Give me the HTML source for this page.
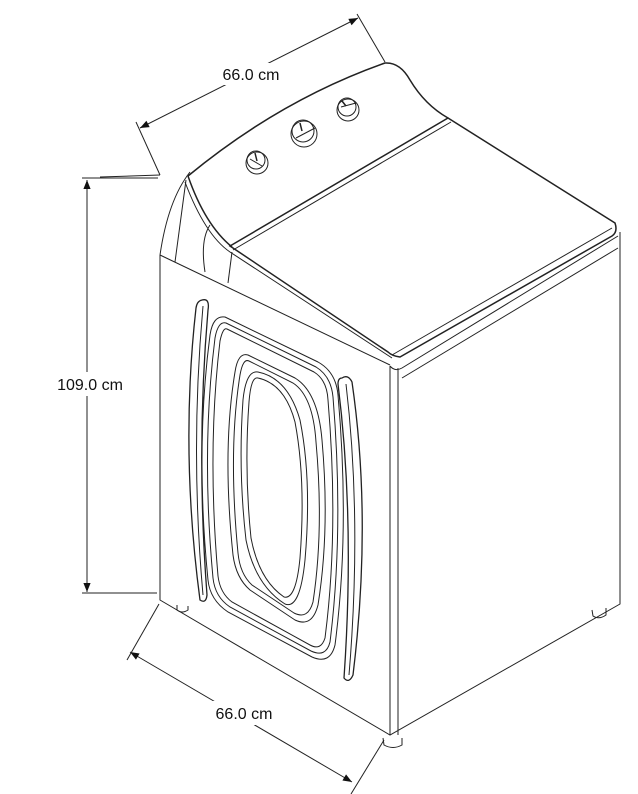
<!DOCTYPE html>
<html><head><meta charset="utf-8"><style>
html,body{margin:0;padding:0;background:#fff;}
svg{display:block;}
text{font-family:"Liberation Sans",sans-serif;font-size:16px;fill:#111;}
</style></head><body>
<svg width="638" height="794" viewBox="0 0 638 794" xmlns="http://www.w3.org/2000/svg">
<defs>
<marker id="a" viewBox="0 0 10 10" refX="10" refY="5" markerWidth="13" markerHeight="9" orient="auto-start-reverse" markerUnits="userSpaceOnUse"><path d="M0,1 L10,5 L0,9 z" fill="#111"/></marker>
</defs>
<g fill="none" stroke="#222" stroke-width="1">
<line x1="140" y1="128" x2="358" y2="18" marker-start="url(#a)" marker-end="url(#a)"/>
<line x1="136" y1="122" x2="160" y2="175"/>
<line x1="100" y1="177" x2="160" y2="175"/>
<line x1="357" y1="14" x2="385" y2="62"/>
<line x1="87" y1="180" x2="87" y2="592" marker-start="url(#a)" marker-end="url(#a)"/>
<line x1="82" y1="178" x2="158" y2="178"/>
<line x1="82" y1="593" x2="157" y2="593"/>
<line x1="130" y1="652" x2="352" y2="782" marker-start="url(#a)" marker-end="url(#a)"/>
<line x1="127" y1="660" x2="159" y2="604"/>
<line x1="351" y1="794" x2="384" y2="740"/>

<path d="M160,255 L160,600 L390,735 L620,604 L620,232"/>
<path d="M160,255 L390,365"/>
<path d="M390,366 L390,735 M398,368 L398,735"/>
<path d="M390,366 Q395,372 402,368 L618,236"/>
<path d="M402,378 L618,248"/>
<path d="M160,255 Q168,200 190,172" />
<path d="M175,262 L186,180 M205,272 Q200,240 210,225"/>
<path d="M228,283 L232,252"/>
<path d="M188,176 Q280,100 385,63 Q400,62 410,80 Q425,105 448,118" stroke-width="1.5"/>
<path d="M188,176 Q205,225 232,247" stroke-width="1.5"/>
<path d="M185,182 Q205,235 230,252 L392,358"/>
<path d="M230,246 L448,118 L615,223 Q618,232 612,236 L400,357 Q392,356 388,352 Z" stroke-width="1.5"/>
<path d="M233,250 L451,122"/>
<path d="M392,355 L612,228"/>
<circle cx="257" cy="163" r="11"/><circle cx="256" cy="160" r="9"/><line x1="250" y1="159" x2="262" y2="166"/><line x1="255" y1="153" x2="257" y2="161" stroke-width="1.5"/>
<circle cx="304" cy="134" r="13"/><circle cx="303" cy="131" r="11"/><line x1="296" y1="138" x2="315" y2="128"/><line x1="300" y1="123" x2="302" y2="131" stroke-width="1.5"/>
<circle cx="348" cy="110" r="11"/><circle cx="347" cy="107" r="9"/><line x1="341" y1="107" x2="356" y2="103"/><line x1="342" y1="101" x2="346" y2="106" stroke-width="1.5"/>

<path d="M202,300 Q210,298 208,310 Q196,450 207,595 Q206,604 200,600 Q180,450 196,308 Q197,301 202,300 Z" stroke-width="1.3"/>
<path d="M203,306 Q190,450 203,595"/>
<path d="M342,378 Q348,374 352,382 Q372,520 353,675 Q349,684 344,678 Q355,520 338,384 Q338,378 342,378 Z" stroke-width="1.3"/>
<path d="M346,384 Q362,520 349,675"/>
<path d="M225,317 L318,362 Q336,372 338,395 Q350,530 335,645 Q330,665 312,657 L228,612 Q210,600 208,580 Q195,450 210,335 Q213,315 225,317 Z"/>
<path d="M226,323 L316,367 Q331,376 333,397 Q344,530 330,642 Q326,658 311,651 L230,607 Q215,597 213,578 Q201,450 215,338 Q218,321 226,323 Z"/>
<path d="M227,329 L314,372 Q327,380 328,400 Q339,530 325,638 Q321,651 310,645 L232,602 Q220,593 218,576 Q207,450 220,341 Q223,327 227,329 Z"/>
<path d="M248,355 L295,378 Q318,392 322,440 Q330,530 318,605 Q312,628 295,620 L250,590 Q236,578 233,555 Q222,450 235,372 Q238,352 248,355 Z"/>
<path d="M249,361 L293,383 Q313,396 316,442 Q324,530 313,602 Q308,620 294,613 L252,585 Q240,574 238,553 Q228,450 240,375 Q243,358 249,361 Z"/>
<path d="M258,372 Q288,378 300,420 Q312,480 305,560 Q300,610 285,604 Q255,585 246,540 Q238,470 243,400 Q246,370 258,372 Z"/>
<path d="M258,378 Q285,384 295,422 Q306,480 300,558 Q296,600 284,597 Q259,580 251,538 Q244,470 249,402 Q251,376 258,378 Z"/>
<path d="M177,605 L177,610 Q182,614 188,610 L188,606"/>
<path d="M383,738 L384,745 Q393,750 402,745 L402,738"/>
<path d="M592,610 L593,616 Q599,620 606,615 L606,608"/>
</g>
<rect x="213" y="63" width="76" height="22" fill="#fff"/>
<text x="251" y="80" text-anchor="middle">66.0 cm</text>
<rect x="50" y="372" width="82" height="24" fill="#fff"/>
<text x="90" y="390" text-anchor="middle">109.0 cm</text>
<rect x="205" y="701" width="79" height="24" fill="#fff"/>
<text x="244" y="719" text-anchor="middle">66.0 cm</text>
</svg>
</body></html>
